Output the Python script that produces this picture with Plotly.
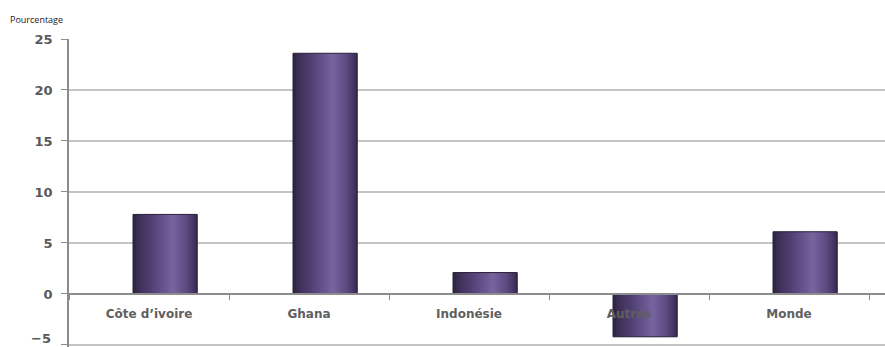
import plotly.graph_objects as go

# Categories and values (percentage)
categories = ["Côte d’ivoire", "Ghana", "Indonésie", "Autres", "Monde"]
values = [7.8, 23.6, 2.1, -4.2, 6.1]
y_ticks = [-5, 0, 5, 10, 15, 20, 25]

# Horizontal shading of the cylinder-like bars (position across bar -> colour)
shade_stops = [
    (0.00, (0x2c, 0x22, 0x3c)),
    (0.10, (0x3e, 0x30, 0x58)),
    (0.35, (0x57, 0x46, 0x7c)),
    (0.62, (0x78, 0x64, 0x9e)),
    (0.82, (0x5e, 0x4c, 0x84)),
    (0.95, (0x44, 0x35, 0x62)),
    (1.00, (0x38, 0x2b, 0x50)),
]


def shade(t):
    for (t0, c0), (t1, c1) in zip(shade_stops[:-1], shade_stops[1:]):
        if t0 <= t <= t1:
            f = (t - t0) / (t1 - t0) if t1 > t0 else 0
            r, g, b = (round(a + (b_ - a) * f) for a, b_ in zip(c0, c1))
            return f"rgb({r},{g},{b})"
    return "rgb(56,43,80)"


BAR_W = 0.4
BAR_SHIFT = 0.1  # bars sit slightly right of the category centre
N_STRIPS = 24
strip_w = BAR_W / N_STRIPS

fig = go.Figure()
for k in range(N_STRIPS):
    t = (k + 0.5) / N_STRIPS
    fig.add_trace(go.Bar(
        x=categories, y=values,
        width=strip_w * 1.25,
        offset=-BAR_W / 2 + BAR_SHIFT + k * strip_w,
        marker=dict(color=shade(t), line=dict(width=0)),
        showlegend=False, hoverinfo="skip",
    ))

# thin outline around each bar
fig.add_trace(go.Bar(
    x=categories, y=values,
    width=BAR_W,
    offset=-BAR_W / 2 + BAR_SHIFT,
    marker=dict(color="rgba(0,0,0,0)", line=dict(color="#2a2038", width=1)),
    showlegend=False, hoverinfo="skip",
))

y_min, y_max = -5.2, 25
GRID = "#c4c4c4"
TICK_FONT = dict(family="DejaVu Sans", size=13, color="#5a5a5a", weight="bold")

fig.update_layout(
    width=885, height=347,
    margin=dict(l=69, r=0, t=39, b=0),
    paper_bgcolor="white", plot_bgcolor="white",
    barmode="overlay",
    font=dict(family="DejaVu Sans", color="#5a5a5a"),
    xaxis=dict(
        type="category",
        range=[-0.5, 4.6],
        anchor="free",
        position=(0 - y_min) / (y_max - y_min),
        showline=True, linecolor="#8c8c8c", linewidth=1.5,
        ticks="outside", ticklen=5, tickcolor="#8c8c8c", tickwidth=1,
        tickson="boundaries",
        showgrid=False,
        tickfont=dict(family="DejaVu Sans", size=12, color="#5f5f5f", weight=600),
        ticklabelstandoff=9,
    ),
    yaxis=dict(
        range=[y_min, y_max],
        tickvals=y_ticks,
        showline=True, linecolor="#8c8c8c", linewidth=1.5,
        ticks="outside", ticklen=6, tickcolor="#8c8c8c",
        showgrid=True, gridcolor=GRID, gridwidth=1.5,
        zeroline=False,
        tickfont=TICK_FONT,
        ticklabelstandoff=6,
    ),
    annotations=[
        dict(
            text="Pourcentage", xref="paper", yref="paper",
            x=-61 / 816, y=1 + 20 / 308, xanchor="left", yanchor="middle",
            showarrow=False, font=dict(family="Open Sans", size=9, color="#222222"),
        ),
        # lowest tick label, resting on the bottom edge of the page
        dict(
            text=f"−{abs(y_ticks[0])}", xref="paper", yref="paper",
            x=-17 / 816, y=0, xanchor="right", yanchor="bottom",
            showarrow=False, font=TICK_FONT, borderpad=0,
        ),
    ],
    shapes=[dict(
        type="line", xref="paper", yref="y",
        x0=0, x1=1, y0=y_ticks[0], y1=y_ticks[0],
        line=dict(color=GRID, width=1.5), layer="below",
    )],
)

fig.write_html("out.html")
